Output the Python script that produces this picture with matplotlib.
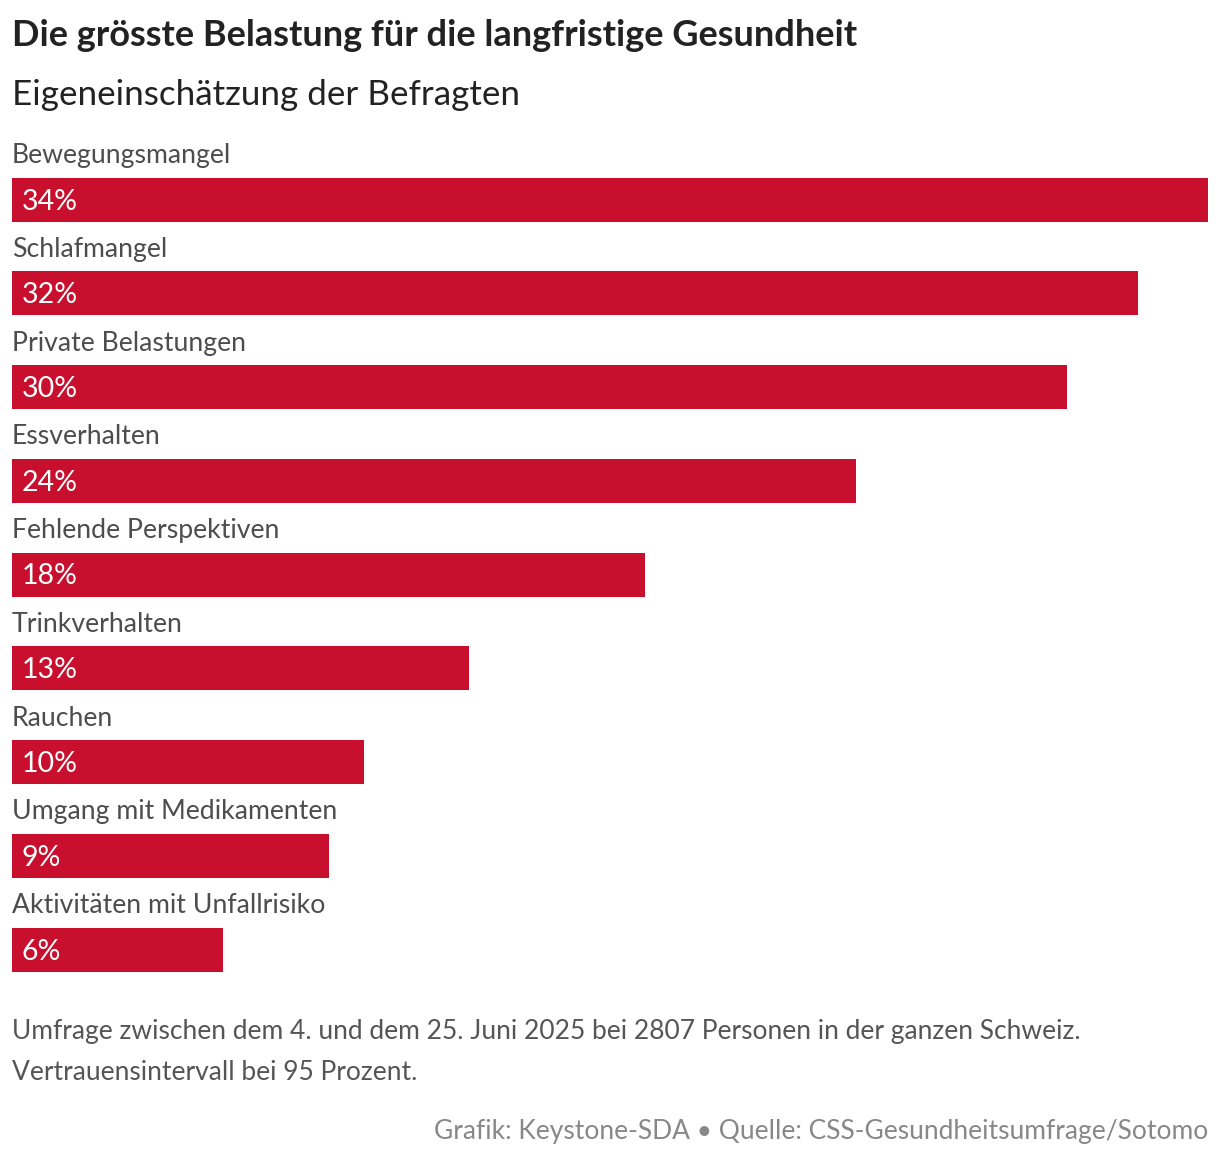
import matplotlib.pyplot as plt

# Daten
categories = [
    "Bewegungsmangel",
    "Schlafmangel",
    "Private Belastungen",
    "Essverhalten",
    "Fehlende Perspektiven",
    "Trinkverhalten",
    "Rauchen",
    "Umgang mit Medikamenten",
    "Aktivitäten mit Unfallrisiko",
]
values = [34, 32, 30, 24, 18, 13, 10, 9, 6]
value_labels = ["34%", "32%", "30%", "24%", "18%", "13%", "10%", "9%", "6%"]

title = "Die grösste Belastung für die langfristige Gesundheit"
subtitle = "Eigeneinschätzung der Befragten"
note1 = "Umfrage zwischen dem 4. und dem 25. Juni 2025 bei 2807 Personen in der ganzen Schweiz."
note2 = "Vertrauensintervall bei 95 Prozent."
source = "Grafik: Keystone-SDA • Quelle: CSS-Gesundheitsumfrage/Sotomo"

BAR_COLOR = "#C8102E"
FONT = "Lato"

W, H = 1220, 1162
fig = plt.figure(figsize=(W / 100, H / 100), dpi=100)

# eine Zeile = 93.75 px, erste Balkenmitte bei 199.5 px
row = 93.75
first = 199.5
ax = fig.add_axes([12 / W, 0, 1196 / W, 1])
ax.set_xlim(0, 34)
ax.set_ylim((H - first) / row, -first / row)
ax.axis("off")

ypos = list(range(len(categories)))
ax.barh(ypos, values, height=44 / row, color=BAR_COLOR, left=0)

for y, cat, lab in zip(ypos, categories, value_labels):
    ax.text(0, y - 44 / row, cat, fontsize=19.2, color="#4d4d4d",
            family=FONT, va="center", ha="left")
    ax.text(0.28, y + 2 / row, lab, fontsize=20.5, color="white",
            family=FONT, va="center", ha="left")

fig.text(12 / W, 1 - 36 / H, title, fontsize=26, fontweight="bold",
         color="#222222", family=FONT, va="center")
fig.text(12 / W, 1 - 95 / H, subtitle, fontsize=25.2, color="#222222",
         family=FONT, va="center")
fig.text(12 / W, 1 - 1031 / H, note1, fontsize=19, color="#555555",
         family=FONT, va="center")
fig.text(12 / W, 1 - 1072 / H, note2, fontsize=19, color="#555555",
         family=FONT, va="center")
fig.text(1208 / W, 1 - 1132 / H, source, fontsize=19, color="#888888",
         family=FONT, va="center", ha="right")

fig.savefig("out.png", dpi=100, facecolor="white")
